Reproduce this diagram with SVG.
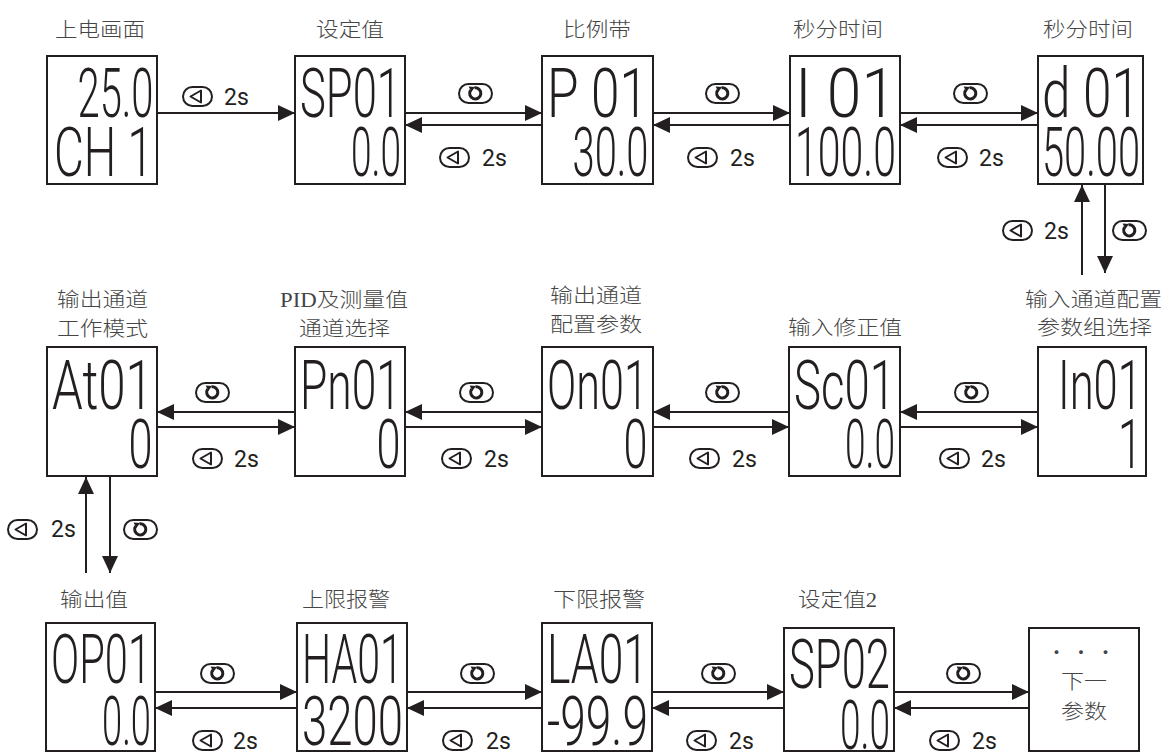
<svg xmlns="http://www.w3.org/2000/svg" xmlns:xlink="http://www.w3.org/1999/xlink" width="1165" height="753" viewBox="0 0 1165 753">
<defs>
<style>
.box{fill:#fff;stroke:#231f20;stroke-width:2}
.title{font-family:"Noto Sans CJK SC","Noto Sans",sans-serif;font-size:20px;font-weight:300;fill:#454545}
.titles{font-family:"Liberation Serif","Noto Sans CJK SC",serif;font-size:20px;font-weight:300;fill:#454545}
.seg{font-family:Roboto,"Liberation Sans",sans-serif;font-size:68px;font-weight:300;fill:#231f20;white-space:pre}
.lbl{font-family:Roboto,"Liberation Sans",sans-serif;font-size:23px;fill:#231f20}
.ln{stroke:#231f20;stroke-width:2;fill:none}
.ico{fill:none;stroke:#231f20;stroke-width:2}
</style>
<marker id="ah" markerUnits="userSpaceOnUse" markerWidth="17" markerHeight="16" refX="17" refY="8" orient="auto">
<path d="M0,0 L17,8 L0,16 z" fill="#231f20"/>
</marker>
<g id="back">
<rect class="ico" x="1" y="1" width="29" height="19" rx="9.5"/>
<polygon class="ico" points="8.5,10.5 19,4.5 19,16.5" stroke-linejoin="round"/>
</g>
<g id="rot">
<rect class="ico" x="1" y="1" width="33" height="19" rx="9.5"/>
<path d="M16.5,4.8 A5.6,5.6 0 1,1 12.6,7.2" fill="none" stroke="#231f20" stroke-width="3"/>
<polygon points="10.6,3.6 17,4 13.4,9" fill="#231f20"/>
</g>
</defs>
<rect width="1165" height="753" fill="#fff"/>

<g id="connectors">
<line class="ln" x1="157" y1="113" x2="295" y2="113" marker-end="url(#ah)"/>
<line class="ln" x1="405" y1="113" x2="542" y2="113" marker-end="url(#ah)"/>
<line class="ln" x1="542" y1="125" x2="405" y2="125" marker-end="url(#ah)"/>
<line class="ln" x1="653" y1="113" x2="790" y2="113" marker-end="url(#ah)"/>
<line class="ln" x1="790" y1="125" x2="653" y2="125" marker-end="url(#ah)"/>
<line class="ln" x1="900" y1="113" x2="1038" y2="113" marker-end="url(#ah)"/>
<line class="ln" x1="1038" y1="125" x2="900" y2="125" marker-end="url(#ah)"/>
<line class="ln" x1="1105" y1="185" x2="1105" y2="273" marker-end="url(#ah)"/>
<line class="ln" x1="1082" y1="275" x2="1082" y2="185" marker-end="url(#ah)"/>
<line class="ln" x1="295" y1="412" x2="157" y2="412" marker-end="url(#ah)"/>
<line class="ln" x1="157" y1="427" x2="295" y2="427" marker-end="url(#ah)"/>
<line class="ln" x1="542" y1="412" x2="405" y2="412" marker-end="url(#ah)"/>
<line class="ln" x1="405" y1="427" x2="542" y2="427" marker-end="url(#ah)"/>
<line class="ln" x1="789" y1="412" x2="653" y2="412" marker-end="url(#ah)"/>
<line class="ln" x1="653" y1="427" x2="789" y2="427" marker-end="url(#ah)"/>
<line class="ln" x1="1038" y1="412" x2="900" y2="412" marker-end="url(#ah)"/>
<line class="ln" x1="900" y1="427" x2="1038" y2="427" marker-end="url(#ah)"/>
<line class="ln" x1="86" y1="573" x2="86" y2="477" marker-end="url(#ah)"/>
<line class="ln" x1="110" y1="477" x2="110" y2="573" marker-end="url(#ah)"/>
<line class="ln" x1="155" y1="692" x2="297" y2="692" marker-end="url(#ah)"/>
<line class="ln" x1="297" y1="708" x2="155" y2="708" marker-end="url(#ah)"/>
<line class="ln" x1="407" y1="692" x2="542" y2="692" marker-end="url(#ah)"/>
<line class="ln" x1="542" y1="708" x2="407" y2="708" marker-end="url(#ah)"/>
<line class="ln" x1="652" y1="692" x2="784" y2="692" marker-end="url(#ah)"/>
<line class="ln" x1="784" y1="708" x2="652" y2="708" marker-end="url(#ah)"/>
<line class="ln" x1="894" y1="692" x2="1029" y2="692" marker-end="url(#ah)"/>
<line class="ln" x1="1029" y1="708" x2="894" y2="708" marker-end="url(#ah)"/>

<use xlink:href="#back" x="182" y="86"/><text class="lbl" x="224" y="105">2s</text>
<use xlink:href="#rot" x="458" y="83"/>
<use xlink:href="#back" x="439" y="147"/><text class="lbl" x="482" y="166">2s</text>
<use xlink:href="#rot" x="705" y="83"/>
<use xlink:href="#back" x="687" y="147"/><text class="lbl" x="730" y="166">2s</text>
<use xlink:href="#rot" x="953" y="83"/>
<use xlink:href="#back" x="937" y="147"/><text class="lbl" x="979" y="166">2s</text>
<use xlink:href="#back" x="1002" y="220"/><text class="lbl" x="1044" y="239">2s</text>
<use xlink:href="#rot" x="1112" y="220"/>
<use xlink:href="#rot" x="195" y="382"/>
<use xlink:href="#back" x="192" y="448"/><text class="lbl" x="234" y="467">2s</text>
<use xlink:href="#rot" x="459" y="382"/>
<use xlink:href="#back" x="441" y="448"/><text class="lbl" x="484" y="467">2s</text>
<use xlink:href="#rot" x="705" y="382"/>
<use xlink:href="#back" x="689" y="448"/><text class="lbl" x="732" y="467">2s</text>
<use xlink:href="#rot" x="954" y="382"/>
<use xlink:href="#back" x="939" y="448"/><text class="lbl" x="981" y="467">2s</text>
<use xlink:href="#back" x="7" y="519"/><text class="lbl" x="51" y="537">2s</text>
<use xlink:href="#rot" x="123" y="519"/>
<use xlink:href="#rot" x="200" y="663"/>
<use xlink:href="#back" x="192" y="730"/><text class="lbl" x="233" y="749">2s</text>
<use xlink:href="#rot" x="460" y="663"/>
<use xlink:href="#back" x="442" y="730"/><text class="lbl" x="486" y="749">2s</text>
<use xlink:href="#rot" x="701" y="663"/>
<use xlink:href="#back" x="686" y="730"/><text class="lbl" x="729" y="749">2s</text>
<use xlink:href="#rot" x="946" y="663"/>
<use xlink:href="#back" x="929" y="730"/><text class="lbl" x="972" y="749">2s</text>
</g>

<g id="node-power-on">
<text class="title" x="55" y="37" textLength="90" lengthAdjust="spacingAndGlyphs">上电画面</text>
<rect class="box" x="47" y="56" width="110" height="128"/>
<text class="seg" transform="matrix(0.66 0 0 1 77.5 117)" textLength="115.2" lengthAdjust="spacingAndGlyphs">25.0</text>
<text class="seg" transform="matrix(0.66 0 0 1 54 176)" textLength="150" lengthAdjust="spacingAndGlyphs">CH 1</text>
</g>
<g id="node-sp01">
<text class="title" x="316" y="37" textLength="68" lengthAdjust="spacingAndGlyphs">设定值</text>
<rect class="box" x="295" y="56" width="110" height="128"/>
<text class="seg" transform="matrix(0.66 0 0 1 300 117)" textLength="153" lengthAdjust="spacingAndGlyphs">SP01</text>
<text class="seg" transform="matrix(0.66 0 0 1 351 176)" textLength="75.8" lengthAdjust="spacingAndGlyphs">0.0</text>
</g>
<g id="node-p01">
<text class="title" x="563" y="37" textLength="68" lengthAdjust="spacingAndGlyphs">比例带</text>
<rect class="box" x="542" y="56" width="111" height="128"/>
<text class="seg" transform="matrix(0.66 0 0 1 547 117)" textLength="153" lengthAdjust="spacingAndGlyphs">P 01</text>
<text class="seg" transform="matrix(0.66 0 0 1 572.5 176)" textLength="115.2" lengthAdjust="spacingAndGlyphs">30.0</text>
</g>
<g id="node-i01">
<text class="title" x="793" y="37" textLength="90" lengthAdjust="spacingAndGlyphs">秒分时间</text>
<rect class="box" x="790" y="56" width="110" height="128"/>
<text class="seg" transform="matrix(0.66 0 0 1 795 117)" textLength="153" lengthAdjust="spacingAndGlyphs">I 01</text>
<text class="seg" transform="matrix(0.66 0 0 1 795 176)" textLength="153" lengthAdjust="spacingAndGlyphs">100.0</text>
</g>
<g id="node-d01">
<text class="title" x="1043" y="37" textLength="90" lengthAdjust="spacingAndGlyphs">秒分时间</text>
<rect class="box" x="1038" y="56" width="105" height="128"/>
<text class="seg" transform="matrix(0.66 0 0 1 1042 117)" textLength="148.5" lengthAdjust="spacingAndGlyphs">d 01</text>
<text class="seg" transform="matrix(0.66 0 0 1 1042 176)" textLength="148.5" lengthAdjust="spacingAndGlyphs">50.00</text>
</g>

<g id="node-at01">
<text class="title" x="57" y="307" textLength="91" lengthAdjust="spacingAndGlyphs">输出通道</text>
<text class="title" x="57" y="336" textLength="91" lengthAdjust="spacingAndGlyphs">工作模式</text>
<rect class="box" x="47" y="347" width="110" height="129"/>
<text class="seg" transform="matrix(0.66 0 0 1 52 409)" textLength="153" lengthAdjust="spacingAndGlyphs">At01</text>
<text class="seg" transform="matrix(0.66 0 0 1 128.5 468)" textLength="36.4" lengthAdjust="spacingAndGlyphs">0</text>
</g>
<g id="node-pn01">
<text class="titles" x="280" y="307" textLength="128" lengthAdjust="spacingAndGlyphs">PID及测量值</text>
<text class="title" x="299" y="336" textLength="91" lengthAdjust="spacingAndGlyphs">通道选择</text>
<rect class="box" x="295" y="347" width="110" height="129"/>
<text class="seg" transform="matrix(0.66 0 0 1 300 409)" textLength="153" lengthAdjust="spacingAndGlyphs">Pn01</text>
<text class="seg" transform="matrix(0.66 0 0 1 376.5 468)" textLength="36.4" lengthAdjust="spacingAndGlyphs">0</text>
</g>
<g id="node-on01">
<text class="title" x="550" y="303" textLength="92" lengthAdjust="spacingAndGlyphs">输出通道</text>
<text class="title" x="550" y="332" textLength="92" lengthAdjust="spacingAndGlyphs">配置参数</text>
<rect class="box" x="542" y="347" width="111" height="129"/>
<text class="seg" transform="matrix(0.66 0 0 1 547 409)" textLength="153" lengthAdjust="spacingAndGlyphs">On01</text>
<text class="seg" transform="matrix(0.66 0 0 1 623.5 468)" textLength="36.4" lengthAdjust="spacingAndGlyphs">0</text>
</g>
<g id="node-sc01">
<text class="title" x="788" y="335" textLength="114" lengthAdjust="spacingAndGlyphs">输入修正值</text>
<rect class="box" x="789" y="347" width="111" height="129"/>
<text class="seg" transform="matrix(0.66 0 0 1 794 409)" textLength="153" lengthAdjust="spacingAndGlyphs">Sc01</text>
<text class="seg" transform="matrix(0.66 0 0 1 845 468)" textLength="75.8" lengthAdjust="spacingAndGlyphs">0.0</text>
</g>
<g id="node-in01">
<text class="title" x="1025" y="307" textLength="137" lengthAdjust="spacingAndGlyphs">输入通道配置</text>
<text class="title" x="1037" y="335" textLength="115" lengthAdjust="spacingAndGlyphs">参数组选择</text>
<rect class="box" x="1038" y="347" width="108" height="129"/>
<text class="seg" transform="matrix(0.66 0 0 1 1058 409)" textLength="127.3" lengthAdjust="spacingAndGlyphs">In01</text>
<text class="seg" transform="matrix(0.66 0 0 1 1118 468)" textLength="36.4" lengthAdjust="spacingAndGlyphs">1</text>
</g>

<g id="node-op01">
<text class="title" x="60" y="607" textLength="68" lengthAdjust="spacingAndGlyphs">输出值</text>
<rect class="box" x="46" y="623" width="109" height="128"/>
<text class="seg" transform="matrix(0.66 0 0 1 51 683)" textLength="151.5" lengthAdjust="spacingAndGlyphs">OP01</text>
<text class="seg" transform="matrix(0.66 0 0 1 102 745)" textLength="74.2" lengthAdjust="spacingAndGlyphs">0.0</text>
</g>
<g id="node-ha01">
<text class="title" x="302" y="607" textLength="88" lengthAdjust="spacingAndGlyphs">上限报警</text>
<rect class="box" x="297" y="623" width="110" height="128"/>
<text class="seg" transform="matrix(0.66 0 0 1 302 683)" textLength="153" lengthAdjust="spacingAndGlyphs">HA01</text>
<text class="seg" transform="matrix(0.66 0 0 1 302 745)" textLength="153" lengthAdjust="spacingAndGlyphs">3200</text>
</g>
<g id="node-la01">
<text class="title" x="553" y="607" textLength="92" lengthAdjust="spacingAndGlyphs">下限报警</text>
<rect class="box" x="542" y="623" width="110" height="128"/>
<text class="seg" transform="matrix(0.66 0 0 1 547 683)" textLength="153" lengthAdjust="spacingAndGlyphs">LA01</text>
<text class="seg" transform="matrix(0.66 0 0 1 547 745)" textLength="153" lengthAdjust="spacingAndGlyphs">-99.9</text>
</g>
<g id="node-sp02">
<text class="titles" x="798" y="607" textLength="79" lengthAdjust="spacingAndGlyphs">设定值2</text>
<rect class="box" x="784" y="628" width="110" height="123"/>
<text class="seg" transform="matrix(0.66 0 0 1 789 688)" textLength="153" lengthAdjust="spacingAndGlyphs">SP02</text>
<text class="seg" transform="matrix(0.66 0 0 1 840 749)" textLength="75.8" lengthAdjust="spacingAndGlyphs">0.0</text>
</g>
<g id="node-next">
<rect class="box" x="1029" y="628" width="110" height="123"/>
<text class="title" x="1081" y="660" text-anchor="middle" font-size="14">· · ·</text>
<text class="title" x="1084" y="689" text-anchor="middle" textLength="46" lengthAdjust="spacingAndGlyphs">下一</text>
<text class="title" x="1084" y="719" text-anchor="middle" textLength="46" lengthAdjust="spacingAndGlyphs">参数</text>
</g>
</svg>
